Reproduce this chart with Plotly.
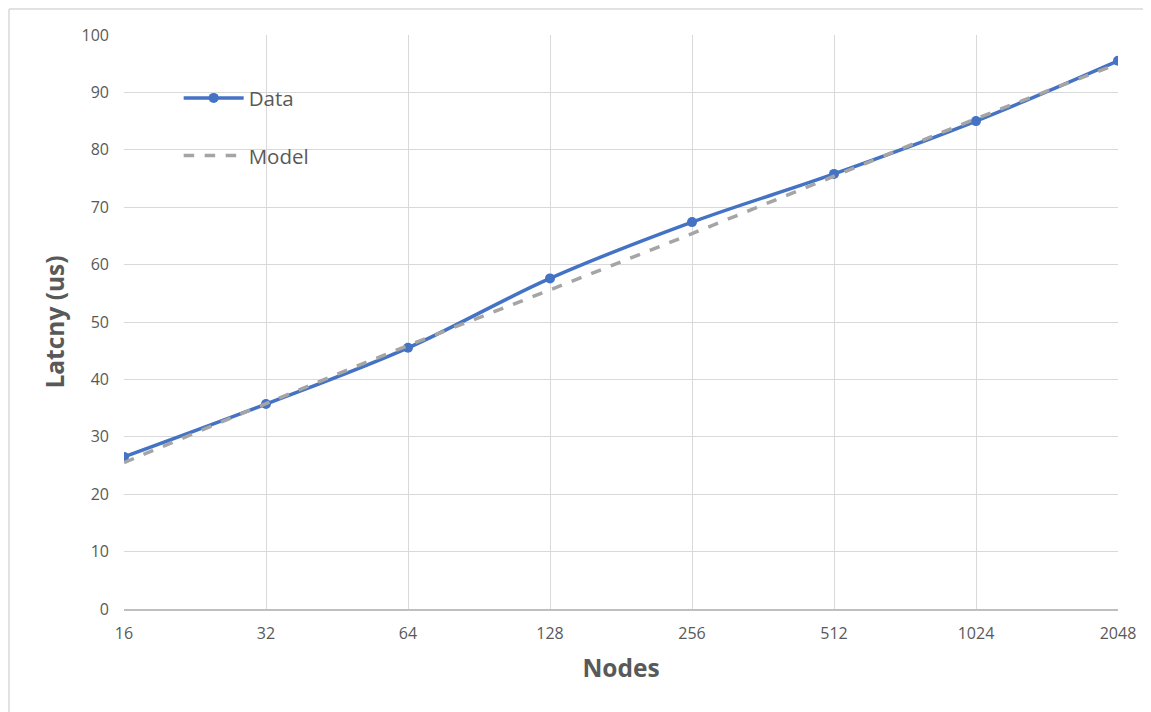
import plotly.graph_objects as go

nodes = [16, 32, 64, 128, 256, 512, 1024, 2048]
data_latency = [26.5, 35.7, 45.5, 57.6, 67.4, 75.8, 85.0, 95.5]
model_latency = [25.5, 35.8, 45.9, 55.6, 65.4, 75.4, 85.4, 95.0]
tick_labels = [str(n) for n in nodes]

FONT = "'Open Sans', sans-serif"
TXT = "#595959"

fig = go.Figure()
fig.add_trace(go.Scatter(
    x=nodes, y=data_latency, name="Data", mode="lines+markers",
    line=dict(color="#4472c4", width=3.5, shape="spline"),
    marker=dict(color="#4472c4", size=10),
    legendgroup="a", legendrank=1,
))
fig.add_trace(go.Scatter(
    x=nodes, y=model_latency, name="Model", mode="lines",
    line=dict(color="#a5a5a5", width=3.5, dash="dash", shape="spline"),
    legendgroup="b", legendrank=2,
))

bx0 = -115 / 994
bytop = 1 + 26 / 574
border = dict(color="#d9d9d9", width=1.5)

fig.update_layout(
    width=1143, height=704,
    margin=dict(l=116, r=33, t=27, b=103),
    paper_bgcolor="white", plot_bgcolor="white",
    font=dict(family=FONT, color=TXT, size=14),
    showlegend=True,
    legend=dict(
        x=0.055, y=0.925, xanchor="left", yanchor="top",
        bgcolor="rgba(255,255,255,0)", font=dict(size=20.5, color=TXT),
        tracegroupgap=28, itemwidth=60,
    ),
    xaxis=dict(
        type="log", range=[1.2041, 3.3113],
        tickvals=nodes, ticktext=tick_labels,
        showgrid=True, gridcolor="#d9d9d9", gridwidth=1.3,
        showline=True, linecolor="#bfbfbf", linewidth=1.5,
        ticks="", ticklabelstandoff=9,
        tickfont=dict(size=16, color=TXT),
        title=dict(text="<b>Nodes</b>", font=dict(size=24.5, color=TXT), standoff=17),
        zeroline=False,
    ),
    yaxis=dict(
        range=[0, 100], dtick=10,
        showgrid=True, gridcolor="#d9d9d9", gridwidth=1.3,
        showline=False, zeroline=False,
        tickfont=dict(size=16, color=TXT),
        ticklabelstandoff=14,
        title=dict(text="<b>Latcny (us)</b>", font=dict(size=24.5, color=TXT), standoff=9),
    ),
    shapes=[
        dict(type="line", xref="paper", yref="paper",
             x0=bx0, x1=1 + 60 / 994, y0=bytop, y1=bytop, line=border),
        dict(type="line", xref="paper", yref="paper",
             x0=bx0, x1=bx0, y0=-150 / 574, y1=bytop, line=border),
    ],
)

fig.write_html("out.html")
